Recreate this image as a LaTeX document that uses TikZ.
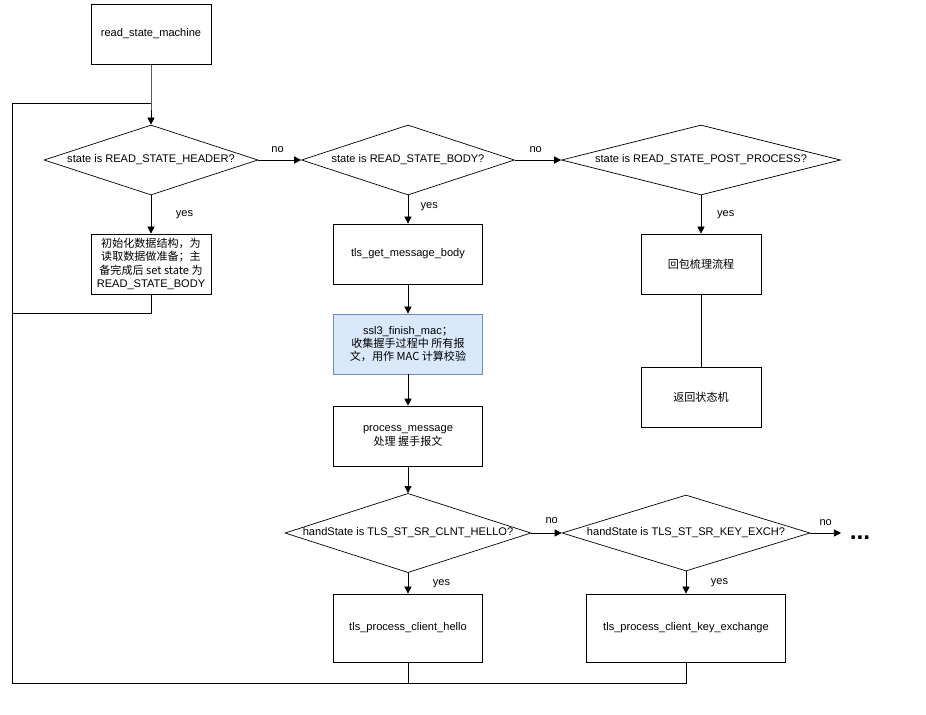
\documentclass[tikz,border=0pt]{standalone}
\usepackage{fontspec}
\setmainfont{Liberation Sans}
\newfontfamily\cjk{Noto Sans CJK SC}
\usetikzlibrary{shapes.geometric,arrows.meta}

\definecolor{macfill}{HTML}{DAE8FC}
\definecolor{macline}{HTML}{6C8EBF}

\tikzset{
    box/.style={draw,fill=white,minimum width=2.4cm,minimum height=1.2cm,align=center,inner sep=1pt},
    wbox/.style={box,minimum width=2.98cm},
    dia/.style={draw,diamond,aspect=3.05,inner sep=0pt,align=center},
    flow/.style={-{Triangle[length=4pt,width=4pt]}},
    lbl/.style={inner sep=1pt}
}

\begin{document}
\begin{tikzpicture}[x=0.02cm,y=-0.02cm,font=\fontsize{6.3}{7.6}\selectfont]
    \useasboundingbox (0,0) rectangle (926,714);
    %top row
    \node[box] (start) at (151,34) {read\_state\_machine};
    \node[dia,minimum width=4.28cm,minimum height=1.4cm] (hdr) at (151,160) {state is READ\_STATE\_HEADER?};
    \node[dia,minimum width=4.26cm,minimum height=1.4cm] (body) at (408,160) {state is READ\_STATE\_BODY?};
    \node[dia,aspect=4,minimum width=5.58cm,minimum height=1.4cm] (post) at (701,160) {state is READ\_STATE\_POST\_PROCESS?};
    \node[box] (init) at (151,264) {\cjk 初始化数据结构，为\\\cjk 读取数据做准备；主\\\cjk 备完成后 set state 为\\READ\_STATE\_BODY};
    %body branch
    \node[wbox] (getbody) at (408,254) {tls\_get\_message\_body};
    \node[wbox,fill=macfill,draw=macline] (mac) at (408,344) {ssl3\_finish\_mac{\cjk ；}\\\cjk 收集握手过程中 所有报\\\cjk 文，用作 MAC 计算校验};
    \node[wbox] (proc) at (408,436) {process\_message\\{\cjk 处理 握手报文}};
    \node[dia,minimum width=4.92cm,minimum height=1.52cm] (hello) at (408,533) {handState is TLS\_ST\_SR\_CLNT\_HELLO?};
    \node[dia,minimum width=4.96cm,minimum height=1.52cm] (kex) at (686,533) {handState is TLS\_ST\_SR\_KEY\_EXCH?};
    \node[wbox,minimum height=1.36cm] (phello) at (408,628) {tls\_process\_client\_hello};
    \node[box,minimum width=3.98cm,minimum height=1.36cm] (pkex) at (686,628) {tls\_process\_client\_key\_exchange};
    \node[font=\fontsize{14}{14}\selectfont\bfseries] (dots) at (860,538) {...};
    \coordinate (more) at (841,533);
    %post branch
    \node[box] (reply) at (701,264) {\cjk 回包梳理流程};
    \node[box] (back) at (701,397) {\cjk 返回状态机};
    %loop
    \coordinate (top) at (151,103);
    \coordinate (lt) at (12,103);
    \coordinate (lb) at (12,683);

    \draw[flow] (start) -- (top) -- (hdr);
    \draw (init.south) -- ++(0,19) -| (lt);
    \draw (lt) -- (top);
    \draw (phello.south) |- (lb) -- (lt);
    \draw (pkex.south) |- (lb);
    \draw[flow] (hdr) -- node[lbl,right=13pt,pos=0.5] {yes} (init);
    \draw[flow] (hdr) -- node[lbl,above,pos=0.45,yshift=3pt] {no} (body);
    \draw[flow] (body) -- node[lbl,right=6pt,pos=0.4] {yes} (getbody);
    \draw[flow] (body) -- node[lbl,above,pos=0.45,yshift=3pt] {no} (post);
    \draw[flow] (post) -- node[lbl,right=8pt,pos=0.5] {yes} (reply);
    \draw (reply) -- (back);
    \draw[flow] (getbody) -- (mac);
    \draw[flow] (mac) -- (proc);
    \draw[flow] (proc) -- (hello);
    \draw[flow] (hello) -- node[lbl,above right,pos=0.4,yshift=4pt] {no} (kex);
    \draw[flow] (kex) -- node[lbl,above,pos=0.5,yshift=3pt] {no} (more);
    \draw[flow] (hello) -- node[lbl,right=13pt,pos=0.5] {yes} (phello);
    \draw[flow] (kex) -- node[lbl,right=13pt,pos=0.5] {yes} (pkex);
\end{tikzpicture}
\end{document}
